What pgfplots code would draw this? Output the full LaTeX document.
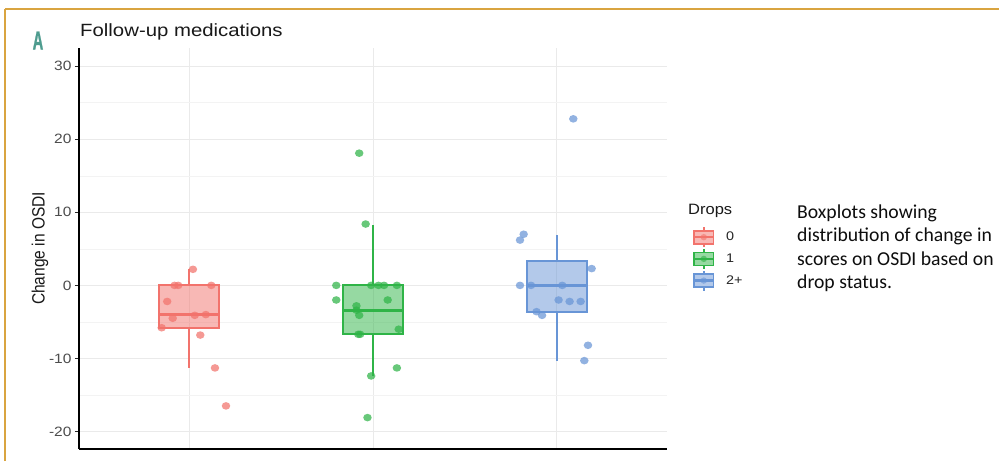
\documentclass[border=0pt]{standalone}
\usepackage{pgfplots}
\pgfplotsset{compat=1.18}
\usepgfplotslibrary{statistics}
\usepackage{fontspec}
\usepackage{graphicx}
\setmainfont{Liberation Sans}
\newfontfamily\calib{Carlito}
\newfontfamily\Afont[BoldFeatures={FakeBold=1.5}]{Liberation Sans}
\definecolor{cRed}{HTML}{F2736C}
\definecolor{cGreen}{HTML}{2FB447}
\definecolor{cBlue}{HTML}{6895D6}
\definecolor{gold}{HTML}{D9A440}
\definecolor{teal}{HTML}{4E9C8F}
\definecolor{tickgray}{HTML}{4D4D4D}
\definecolor{gridmaj}{HTML}{EAEAEA}
\definecolor{gridmin}{HTML}{F3F3F3}
\newcommand{\sx}[1]{\scalebox{1.15}[1]{#1}}
\newcommand{\glyph}[1]{%
  \path[draw=none, fill=none] (0pt,-10.75pt) rectangle (21pt,10.75pt);
  \draw[draw=#1, line width=1.7pt] (10.5pt,6.5pt)--(10.5pt,10pt) (10.5pt,-6.5pt)--(10.5pt,-10pt);
  \draw[draw=#1, fill=#1, fill opacity=0.5, line width=1.7pt] (0.9pt,-6.5pt) rectangle (20.1pt,6.5pt);
  \draw[draw=#1, line width=2.4pt] (0.9pt,0pt)--(20.1pt,0pt);
  \path[draw=none, fill=#1, fill opacity=0.6] (10.5pt,0pt) circle (3.2pt);
}
\begin{document}
\begin{tikzpicture}[x=1pt,y=1pt]
\useasboundingbox (0,0) rectangle (999,461);
\fill[white] (0,0) rectangle (999,461);
% frame
\draw[gold, line width=2pt] (5,452) -- (999,452);
\draw[gold, line width=2pt] (5,0) -- (5,452);
\begin{axis}[
  at={(79pt,12pt)}, anchor=south west,
  scale only axis, width=588pt, height=401pt,
  xmin=0.4, xmax=3.6, ymin=-22.4, ymax=32.5,
  axis lines*=left,
  axis line style={-, black, line width=1.1pt},
  xtick={1,2,3}, xticklabels={},
  xtick style={draw=none},
  ytick={-20,-10,0,10,20,30},
  yticklabels={\sx{-20},\sx{-10},\sx{0},\sx{10},\sx{20},\sx{30}},
  minor y tick num=1,
  tick align=outside,
  major tick length=4pt, minor tick length=0pt,
  ytick style={black!85, line width=0.9pt},
  yticklabel style={font=\fontsize{13.5}{15}\selectfont, text=tickgray},
  xmajorgrids, ymajorgrids, yminorgrids,
  major grid style={draw=gridmaj, line width=0.8pt},
  minor grid style={draw=gridmin, line width=0.6pt},
  ylabel={\scalebox{1}[1.15]{Change in OSDI}},
  ylabel style={at={(axis description cs:-0.0663,0.5)}, anchor=center,
    font=\fontsize{15.5}{17}\selectfont, text=black!90},
  legend style={at={(axis description cs:1.0442,0.5553)}, anchor=north west,
    draw=none, fill=none, inner sep=0pt, outer sep=0pt,
    row sep=0pt, column sep=9.5pt,
    nodes={inner sep=2pt, text=black!85},
    font=\fontsize{12.5}{14}\selectfont},
  legend cell align=left,
  boxplot/draw direction=y,
  clip=false,
]
\addlegendimage{legend image code/.code={\glyph{cRed}}}
\addlegendentry{\sx{0}}
\addlegendimage{legend image code/.code={\glyph{cGreen}}}
\addlegendentry{\sx{1}}
\addlegendimage{legend image code/.code={\glyph{cBlue}}}
\addlegendentry{\sx{2+}}

% boxplots
\addplot[forget plot, draw=cRed, fill=cRed, fill opacity=0.5, line width=1.9pt,
  boxplot prepared={draw position=1, lower whisker=-11.3, lower quartile=-5.8,
    median=-4.0, upper quartile=0.0, upper whisker=2.2,
    box extend=0.327, whisker extend=0,
    every median/.style={line width=3pt}}] coordinates {};
\addplot[forget plot, draw=cGreen, fill=cGreen, fill opacity=0.5, line width=1.9pt,
  boxplot prepared={draw position=2, lower whisker=-12.4, lower quartile=-6.7,
    median=-3.4, upper quartile=0.0, upper whisker=8.3,
    box extend=0.327, whisker extend=0,
    every median/.style={line width=3pt}}] coordinates {};
\addplot[forget plot, draw=cBlue, fill=cBlue, fill opacity=0.5, line width=1.9pt,
  boxplot prepared={draw position=3, lower whisker=-10.3, lower quartile=-3.7,
    median=0.0, upper quartile=3.3, upper whisker=6.9,
    box extend=0.327, whisker extend=0,
    every median/.style={line width=3pt}}] coordinates {};

% jittered points
\addplot[forget plot, only marks, mark=*, mark size=3.8pt,
  mark options={draw opacity=0, fill=cRed, fill opacity=0.72, xscale=1.12}]
  coordinates {(1.02,2.2) (0.92,0) (0.94,0) (1.12,0) (0.88,-2.2) (0.91,-4.5)
  (1.03,-4.1) (1.09,-4.0) (0.85,-5.8) (1.06,-6.8) (1.14,-11.3) (1.20,-16.5)};
\addplot[forget plot, only marks, mark=*, mark size=3.8pt,
  mark options={draw opacity=0, fill=cGreen, fill opacity=0.72, xscale=1.12}]
  coordinates {(1.925,18.1) (1.96,8.4) (1.80,0) (1.99,0) (2.03,0) (2.06,0)
  (2.13,0) (1.80,-2.0) (2.08,-2.0) (1.91,-2.8) (1.91,-3.4) (1.925,-4.1)
  (1.92,-6.7) (1.93,-6.7) (2.14,-6.0) (2.13,-11.3) (1.99,-12.4) (1.97,-18.1)};
\addplot[forget plot, only marks, mark=*, mark size=3.8pt,
  mark options={draw opacity=0, fill=cBlue, fill opacity=0.72, xscale=1.12}]
  coordinates {(3.09,22.8) (2.82,7.0) (2.80,6.2) (3.19,2.3) (2.80,0) (2.86,0)
  (3.03,0) (3.01,-2.0) (3.07,-2.2) (3.13,-2.2) (2.89,-3.6) (2.92,-4.1)
  (3.17,-8.2) (3.15,-10.3)};
\end{axis}
% title and panel letter
\node[anchor=base west, inner sep=0pt, font=\fontsize{17.7}{20}\selectfont, text=black!90]
  at (80,424) {\sx{Follow-up medications}};
\node[anchor=center, inner sep=0pt, font=\Afont\bfseries\fontsize{26}{28}\selectfont, text=teal]
  at (38,420.5) {\scalebox{0.56}[1]{A}};
% legend title
\node[anchor=west, inner sep=0pt, font=\fontsize{15}{17}\selectfont, text=black!90]
  at (688,250) {\scalebox{1.1}[1]{Drops}};
% side caption
\begin{scope}[every node/.style={anchor=base west, inner sep=0pt,
    font=\calib\fontsize{19.7}{23}\selectfont, text=black!95}]
\node at (797,242.5) {Boxplots showing};
\node at (797,219.2) {distribution of change in};
\node at (797,195.9) {scores on OSDI based on};
\node at (797,172.6) {drop status.};
\end{scope}
\end{tikzpicture}
\end{document}
